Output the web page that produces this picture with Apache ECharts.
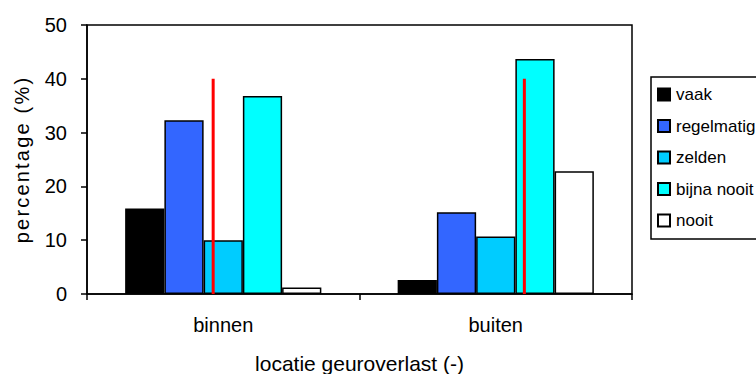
<!DOCTYPE html>
<html>
<head>
<meta charset="utf-8">
<script src="https://cdn.jsdelivr.net/npm/echarts@6/dist/echarts.min.js"></script>
<style>
  html, body { margin: 0; padding: 0; background: #fff; }
  #chart { width: 756px; height: 374px; }
</style>
</head>
<body>
<div id="chart"></div>
<script>
// Locations on the category axis
const categories = ['binnen', 'buiten'];

// Frequency classes (legend entries) and their fill colours
const seriesNames = ['vaak', 'regelmatig', 'zelden', 'bijna nooit', 'nooit'];
const seriesColors = ['#000000', '#3366ff', '#00ccff', '#00ffff', '#ffffff'];

// Percentages per class, one value per location
const vaak = [15.9, 2.6];
const regelmatig = [32.3, 15.2];
const zelden = [10.0, 10.7];
const bijnaNooit = [36.8, 43.7];
const nooit = [1.2, 22.8];

// Red reference lines: position along the category span (0..2) and height
const refLineX = [0.463, 1.605];
const refLineTop = [40, 40];

// Y-axis ticks
const yMin = 0, yMax = 50, yStep = 10;

const values = [vaak, regelmatig, zelden, bijnaNooit, nooit];
const font = 'Liberation Sans, Arial, sans-serif';
const yTitle = 'percentage (%)';

const barSeries = seriesNames.map((name, i) => ({
  name: name,
  type: 'bar',
  xAxisIndex: 0,
  yAxisIndex: 0,
  barGap: '0%',
  barCategoryGap: '28%',
  data: values[i],
  itemStyle: { color: seriesColors[i], borderColor: '#000', borderWidth: 1.5 },
  emphasis: { disabled: true },
  z: 2
}));

const refSeries = refLineX.map((x, i) => ({
  name: 'ref' + i,
  type: 'line',
  xAxisIndex: 1,
  yAxisIndex: 0,
  data: [[x, 0], [x, refLineTop[i]]],
  symbol: 'none',
  lineStyle: { color: '#ff0000', width: 3 },
  z: 5,
  silent: true
}));

const chart = echarts.init(document.getElementById('chart'), null, { renderer: 'svg' });
chart.setOption({
  animation: false,
  backgroundColor: '#fff',
  grid: {
    left: 87, right: 124, top: 25, bottom: 80,
    outerBoundsMode: 'none',
    containLabel: false,
    show: true, borderColor: '#000', borderWidth: 1.5, backgroundColor: 'transparent'
  },
  legend: {
    data: seriesNames,
    icon: 'rect',
    orient: 'vertical',
    left: 651, top: 77,
    padding: [9, 40, 10, 6],
    itemWidth: 12, itemHeight: 12,
    itemGap: 14.5,
    borderColor: '#000', borderWidth: 1.5,
    textStyle: { fontFamily: font, fontSize: 17, color: '#000', padding: [0, 0, 0, 1] },
    selectedMode: false
  },
  xAxis: [{
    type: 'category',
    data: categories,
    name: 'locatie geuroverlast (-)',
    nameLocation: 'middle',
    nameGap: 59,
    nameTextStyle: { fontFamily: font, fontSize: 21, color: '#000' },
    axisLine: { lineStyle: { color: '#000', width: 1.5 } },
    axisTick: { show: true, length: 6, lineStyle: { color: '#000', width: 1.5 } },
    axisLabel: { fontFamily: font, fontSize: 20, color: '#000', margin: 21 },
    splitLine: { show: false }
  }, {
    type: 'value',
    min: 0, max: 2,
    show: false
  }],
  yAxis: {
    type: 'value',
    min: yMin, max: yMax, interval: yStep,
    name: yTitle,
    nameLocation: 'middle',
    nameGap: 55,
    nameTextStyle: { fontFamily: font, fontSize: 20, color: '#000' },
    axisLine: { show: true, lineStyle: { color: '#000', width: 1.5 } },
    axisTick: { show: true, length: 6, lineStyle: { color: '#000', width: 1.5 } },
    axisLabel: { fontFamily: font, fontSize: 20, color: '#000', margin: 20 },
    splitLine: { show: false }
  },
  series: barSeries.concat(refSeries)
});

// Spread out the letters of the vertical axis title
document.querySelectorAll('#chart svg text').forEach(t => {
  if (t.textContent === yTitle) t.setAttribute('letter-spacing', '2.2');
});
</script>
</body>
</html>
